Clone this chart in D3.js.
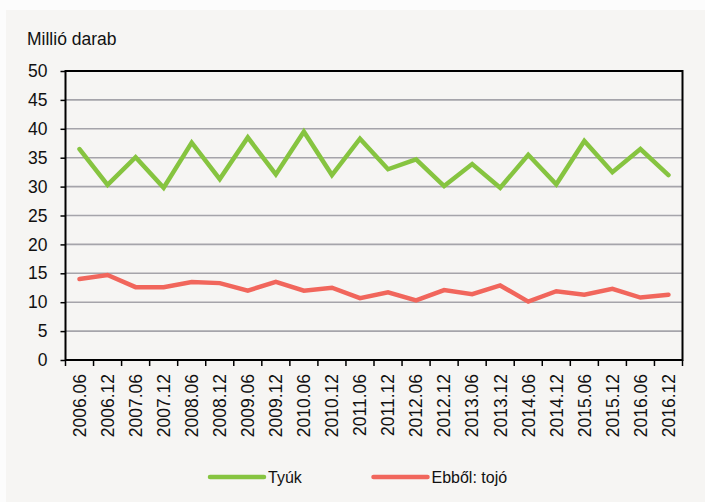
<!DOCTYPE html>
<html>
<head>
<meta charset="utf-8">
<script src="https://cdn.jsdelivr.net/npm/d3@7"></script>
<style>
    body { margin: 0; background: #fcfcfc; }
    svg { display: block; font-family: "Liberation Sans", Arial, sans-serif; }
</style>
</head>
<body>
<svg width="705" height="502"></svg>
<script>
// **** Data ****

var periods = ["2006.06","2006.12","2007.06","2007.12","2008.06","2008.12","2009.06","2009.12",
    "2010.06","2010.12","2011.06","2011.12","2012.06","2012.12","2013.06","2013.12",
    "2014.06","2014.12","2015.06","2015.12","2016.06","2016.12"];

var tyuk = [36.5,30.3,35.1,29.8,37.6,31.3,38.5,32.1,39.5,32.0,38.3,33.0,
    34.7,30.1,33.9,29.8,35.5,30.4,37.9,32.5,36.5,32.0];

var tojo = [14.0,14.7,12.6,12.6,13.5,13.3,12.0,13.5,12.0,12.5,10.7,11.7,
    10.3,12.1,11.4,12.9,10.1,11.9,11.3,12.3,10.8,11.3];

var yTicks = [0,5,10,15,20,25,30,35,40,45,50];

var seriesNames = ["Tyúk", "Ebből: tojó"];
var seriesColors = ["#86c440", "#f1665c"];

// **** Scales ****

var plotLeft = 65.5, plotRight = 682.5, plotTop = 71, plotBottom = 360;

var xScale = d3.scaleBand().domain(periods).range([plotLeft, plotRight]);
var yScale = d3.scaleLinear().domain([0, 50]).range([plotBottom, plotTop]);

var svg = d3.select('svg');

// panel background
svg.append("rect")
    .attr("x", 6).attr("y", 10)
    .attr("width", 699).attr("height", 492)
    .attr("fill", "#f6f5f3");

// gridlines
svg.append("g").selectAll("line")
    .data(yTicks.filter(function(d) { return d > 0 && d < 50; }))
    .enter().append("line")
    .attr("x1", plotLeft).attr("x2", plotRight)
    .attr("y1", function(d) { return yScale(d); })
    .attr("y2", function(d) { return yScale(d); })
    .attr("stroke", "#a5a4aa")
    .attr("stroke-width", 1.6);

// y axis
var yAxis = svg.append('g').attr('class', 'y axis')
    .attr('transform', 'translate(' + plotLeft + ',0)')
    .call(d3.axisLeft(yScale).tickValues(yTicks).tickSize(5).tickPadding(13));

// x axis
var xAxis = svg.append('g').attr('class', 'x axis')
    .attr('transform', 'translate(0,' + plotBottom + ')')
    .call(d3.axisBottom(xScale).tickSize(0).tickPadding(0));

xAxis.selectAll("text")
    .attr("text-anchor", "end")
    .attr("transform", "translate(0,14) rotate(-90)")
    .attr("x", 0).attr("y", 0)
    .attr("dy", "0.36em");

// x ticks at category boundaries
var bounds = periods.map(function(p) { return xScale(p); }).concat([plotRight]);
svg.append("g").selectAll("line")
    .data(bounds)
    .enter().append("line")
    .attr("x1", function(d) { return d; })
    .attr("x2", function(d) { return d; })
    .attr("y1", plotBottom).attr("y2", plotBottom + 6)
    .attr("stroke", "#000").attr("stroke-width", 1.5);

svg.selectAll(".axis path").remove();
svg.selectAll(".axis line").attr("stroke", "#000").attr("stroke-width", 1.5);
svg.selectAll(".axis text")
    .attr("fill", "#111")
    .style("font-size", "17.5px")
    .style("font-family", "'Liberation Sans', Arial, sans-serif");

// plot frame
svg.append("rect")
    .attr("x", plotLeft).attr("y", plotTop)
    .attr("width", plotRight - plotLeft).attr("height", plotBottom - plotTop)
    .attr("fill", "none")
    .attr("stroke", "#000")
    .attr("stroke-width", 2);

// unit label
svg.append("text")
    .attr("x", 27).attr("y", 45)
    .attr("fill", "#111")
    .style("font-size", "17.5px")
    .text("Millió darab");

// **** Lines ****

var line = d3.line()
    .x(function(d, i) { return xScale(periods[i]) + xScale.bandwidth() / 2; })
    .y(function(d) { return yScale(d); });

[tyuk, tojo].forEach(function(values, k) {
    svg.append("path")
        .datum(values)
        .attr("d", line)
        .attr("fill", "none")
        .attr("stroke", seriesColors[k])
        .attr("stroke-width", 4.5)
        .attr("stroke-linejoin", "miter")
        .attr("stroke-linecap", "round");
});

// **** Legend ****

var legendX = [210, 373.5];
var legend = svg.selectAll("g.legend")
    .data(seriesNames)
    .enter().append("g")
    .attr("class", "legend")
    .attr("transform", function(d, i) { return "translate(" + legendX[i] + ",477)"; });

legend.append("line")
    .attr("x1", 0).attr("x2", 54)
    .attr("y1", 0).attr("y2", 0)
    .attr("stroke", function(d, i) { return seriesColors[i]; })
    .attr("stroke-width", 4.5)
    .attr("stroke-linecap", "round");

legend.append("text")
    .attr("x", 58).attr("y", 6)
    .attr("fill", "#111")
    .style("font-size", "16px")
    .text(function(d) { return d; });
</script>
</body>
</html>
